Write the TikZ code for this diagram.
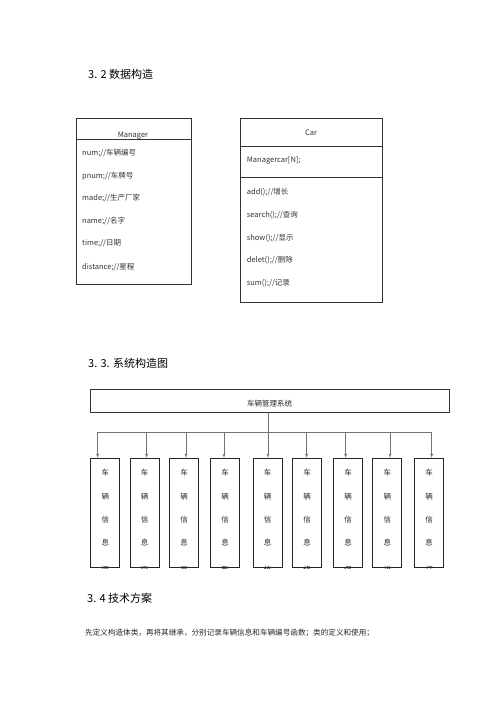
\documentclass[tikz,border=0pt]{standalone}
\usepackage{fontspec}
\setmainfont{Noto Sans CJK SC}
\usetikzlibrary{shapes,arrows,positioning}
\tikzstyle{classbox} = [rectangle, draw=black!80, line width=0.9pt, anchor=north west, inner sep=0pt]
\tikzstyle{field} = [anchor=west, inner sep=0pt, text=black!80, font=\fontsize{7.5}{9}\selectfont]
\tikzstyle{heading} = [anchor=west, inner sep=0pt, font=\fontsize{11}{13}\selectfont]
\tikzstyle{infobox} = [rectangle, draw=black!85, line width=1pt, inner sep=0pt,
minimum width=29pt, minimum height=109.5pt, anchor=north]
\tikzstyle{glyph} = [inner sep=0pt, text=black!85, font=\fontsize{7.5}{8}\selectfont]
\tikzstyle{line} = [draw, -latex', black!55, line width=0.5pt]

\begin{document}
\begin{tikzpicture}[x=1pt, y=1pt]
	\path[fill=white] (0,0) rectangle (500,707);
	% Place nodes
	\node [heading] (t32) at (88,633) {3. 2 数据构造};

	% Manager class
	\node [classbox, minimum width=115pt, minimum height=166pt] (mgr) at (75.7,589) {};
	\draw [black!80, line width=0.9pt] (mgr.west |- 0,568) -- (mgr.east |- 0,568);
	\begin{scope}
		\clip (mgr.north west) rectangle (mgr.east |- 0,568.5);
		\node [field, anchor=base] (mgrname) at (133,569.6) {Manager};
	\end{scope}
	\node [field] (num) at (82,554) {num;//车辆编号};
	\node [field] (pnum) at ([yshift=-23pt]num.west) {pnum;//车牌号};
	\node [field] (made) at ([yshift=-22pt]pnum.west) {made;//生产厂家};
	\node [field] (name) at ([yshift=-23pt]made.west) {name;//名字};
	\node [field] (time) at ([yshift=-22pt]name.west) {time;//日期};
	\node [field] (dist) at ([yshift=-24pt]time.west) {distance;//星程};

	% Car class
	\node [classbox, minimum width=142pt, minimum height=184pt] (car) at (240,589) {};
	\draw [black!80, line width=0.9pt] (car.west |- 0,561) -- (car.east |- 0,561);
	\draw [black!80, line width=0.9pt] (car.west |- 0,530) -- (car.east |- 0,530);
	\node [field, anchor=center] (carname) at (311,574) {Car};
	\node [field] (mcar) at (246.7,547) {Managercar[N];};
	\node [field] (add) at (246.7,515) {add();//增长};
	\node [field] (search) at ([yshift=-23pt]add.west) {search();//查询};
	\node [field] (show) at ([yshift=-23pt]search.west) {show();//显示};
	\node [field] (delet) at ([yshift=-22pt]show.west) {delet();//删除};
	\node [field] (sum) at ([yshift=-23pt]delet.west) {sum();//记录};

	% System structure
	\node [heading] (t33) at (88,344) {3. 3. 系统构造图};
	\node [rectangle, draw=black!80, line width=0.9pt, anchor=north west, inner sep=0pt,
		minimum width=359pt, minimum height=23pt] (sys) at (90,318) {};
	\node [glyph] (systext) at (269.5,303) {车辆管理系统};

	\foreach \c/\a/\g [count=\i] in {105.3/97.7/添, 144.5/146.7/查, 184/186/显,
		225/224/删, 267.7/268/统, 307/306.7/修, 348/345.7/保, 387.3/390/排, 429.2/431.7/打}
	{
		\node [infobox] (b\i) at (\c,249) {};
		\coordinate (t\i) at (\a,275);
		\path [line] (t\i) -- (t\i |- b\i.north);
		\node [glyph] (ch\i a) at ([yshift=-15pt]b\i.north) {车};
		\node [glyph] (ch\i b) at ([yshift=-24pt]ch\i a) {辆};
		\node [glyph] (ch\i c) at ([yshift=-23pt]ch\i b) {信};
		\node [glyph] (ch\i d) at ([yshift=-23pt]ch\i c) {息};
		\begin{scope}
			\clip (b\i.south west) rectangle (b\i.north east);
			\node [glyph] (ch\i e) at ([yshift=-0.8pt]b\i.south) {\g};
		\end{scope}
	}
	\draw [black!55, line width=0.5pt] (t1) -- (t9);
	\draw [black!55, line width=0.5pt] (sys.south -| t5) -- (t5);

	% Technical plan
	\node [heading] (t34) at (87,109) {3. 4 技术方案};
	\node [field, text=black!85, font=\fontsize{7.6}{9}\selectfont] (plan) at (85,74)
		{先定义构造体类，再将其继承，分别记录车辆信息和车辆编号函数；类的定义和使用；};
\end{tikzpicture}
\end{document}
